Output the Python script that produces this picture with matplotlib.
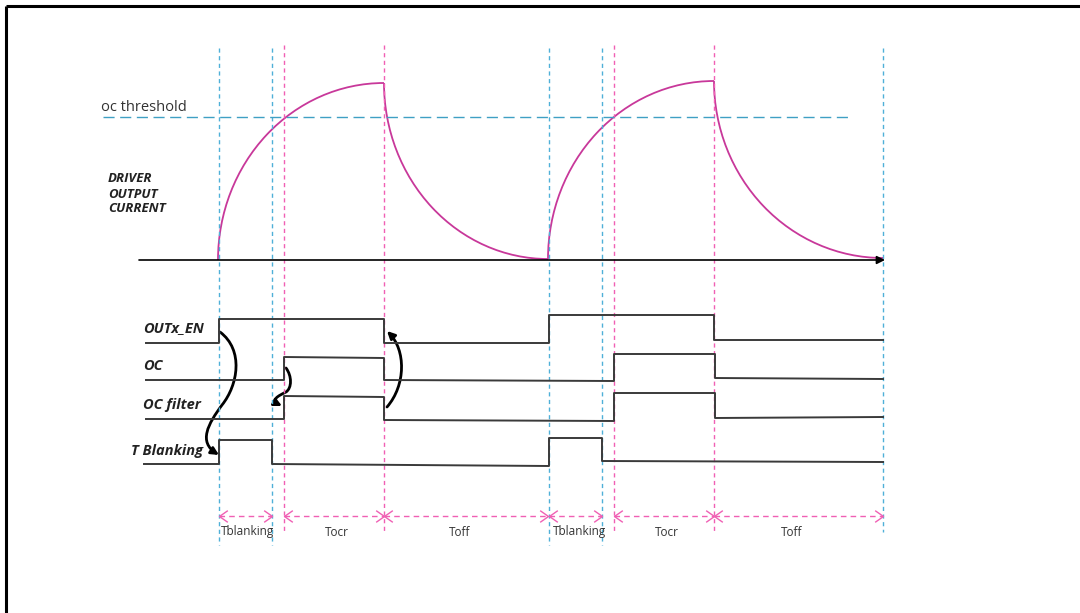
import numpy as np
import matplotlib
matplotlib.use("Agg")
import matplotlib.pyplot as plt
from matplotlib.path import Path
from matplotlib.patches import FancyArrowPatch, Arc

# ---- data (pixel-like time / level units) ----
blue_marks = [219, 272, 549, 602, 883]
blue_bottom = [545, 545, 545, 545, 532]
pink_marks = [284, 384, 614, 714]

threshold_y = 117
threshold_x = [103, 848]
axis_y = 260
axis_x = [139, 885]

# driver output current: each cycle rises as a quarter ellipse then decays
cyc_start = [218, 548]
cyc_peak_x = [384, 714]
cyc_end = [548, 883]
cyc_base = [260, 259]
cyc_peak_y = [83, 81]
cyc_end_y = [259, 258]

# digital waveforms
outx_x = [146, 219, 219, 384, 384, 549, 549, 714, 714, 883]
outx_y = [343, 343, 319, 319, 343, 343, 315, 315, 340, 340]
oc_x = [146, 284, 284, 384, 384, 614, 614, 715, 715, 883]
oc_y = [380, 380, 357, 358, 380, 381, 354, 354, 378, 379]
ocf_x = [146, 284, 284, 384, 384, 614, 614, 715, 715, 883]
ocf_y = [419, 419, 396, 397, 420, 421, 393, 393, 418, 417]
tbl_x = [144, 219, 219, 272, 272, 549, 549, 602, 602, 883]
tbl_y = [464, 464, 440, 440, 464, 466, 438, 438, 461, 462]

sig_names = ["OUTx_EN", "OC", "OC filter", "T Blanking"]
sig_label_x = [143, 143, 143, 131]
sig_label_y = [328, 366, 405, 451]

# durations
dur_start = [219, 284, 384, 549, 614, 714]
dur_end = [272, 384, 548, 602, 714, 883]
dur_names = ["Tblanking", "Tocr", "Toff", "Tblanking", "Tocr", "Toff"]
dur_label_x = [248, 337, 460, 580, 667, 792]

BLUE = "#4fb0d8"
PINK = "#f060b4"
MAG = "#c8389a"
WAVE = "#3a3a3a"

fig = plt.figure(figsize=(10.8, 6.13), dpi=100)
ax = fig.add_axes([0, 0, 1, 1])
ax.set_xlim(0, 1080)
ax.set_ylim(613, 0)
ax.axis("off")

# border
ax.plot([6, 1080], [6, 6], color="black", lw=2.2, solid_capstyle="butt")
ax.plot([6, 6], [6, 613], color="black", lw=2.2, solid_capstyle="butt")

# dashed time markers
for x, b in zip(blue_marks, blue_bottom):
    ax.plot([x, x], [48, b], color=BLUE, lw=1.0, ls=(0, (3, 2.5)))
for x in pink_marks:
    ax.plot([x, x], [45, 532], color=PINK, lw=1.0, ls=(0, (3, 2.5)))

# threshold
ax.plot(threshold_x, [threshold_y, threshold_y], color="#3fa0c4", lw=1.0, ls=(0, (8, 4)))
ax.text(101, 111, "oc threshold", fontsize=10.5, family="Open Sans", color="#333333", va="baseline")

# time axis
ax.annotate("", xy=(axis_x[1], axis_y), xytext=(axis_x[0], axis_y),
            arrowprops=dict(arrowstyle="-|>", color="black", lw=1.2, mutation_scale=12,
                            shrinkA=0, shrinkB=0))

# current waveform (y axis is inverted, so angles run the other way)
for s, px, e, b, py, ey in zip(cyc_start, cyc_peak_x, cyc_end, cyc_base, cyc_peak_y, cyc_end_y):
    ax.add_patch(Arc((px, b), 2 * (px - s), 2 * (b - py), theta1=180, theta2=270,
                     color=MAG, lw=1.3))
    ax.add_patch(Arc((e, py), 2 * (e - px), 2 * (ey - py), theta1=90, theta2=180,
                     color=MAG, lw=1.3))

ax.text(108, 194, "DRIVER\nOUTPUT\nCURRENT", fontsize=9.5, family="Open Sans", weight="bold",
        style="italic", color="#222222", va="center", linespacing=1.2)

# digital signals
for xs, ys in [(outx_x, outx_y), (oc_x, oc_y), (ocf_x, ocf_y), (tbl_x, tbl_y)]:
    ax.plot(xs, ys, color=WAVE, lw=1.4)
for name, lx, ly in zip(sig_names, sig_label_x, sig_label_y):
    ax.text(lx, ly, name, fontsize=10.5, family="Open Sans", weight="bold", style="italic",
            color="#222222", va="center")

# causal arrows
def curve_arrow(verts):
    codes = [Path.MOVETO] + [Path.CURVE4] * (len(verts) - 1)
    p = FancyArrowPatch(path=Path(verts, codes), arrowstyle="-|>", color="black",
                        lw=2.0, mutation_scale=11)
    ax.add_patch(p)

curve_arrow([(220, 332), (244, 350), (238, 385), (222, 405),
             (208, 424), (198, 442), (219, 455)])
curve_arrow([(286, 368), (292, 376), (292, 388), (286, 392),
             (278, 396), (270, 400), (282, 406)])
curve_arrow([(387, 407), (406, 385), (406, 350), (387, 331)])

# duration arrows
head_l = Path([(1.0, 0.7), (0, 0), (1.0, -0.7)], [Path.MOVETO, Path.LINETO, Path.LINETO])
head_r = Path([(-1.0, 0.7), (0, 0), (-1.0, -0.7)], [Path.MOVETO, Path.LINETO, Path.LINETO])
dur_y = 516
for s, e, name, lx in zip(dur_start, dur_end, dur_names, dur_label_x):
    ax.plot([s, e], [dur_y, dur_y], color=PINK, lw=1.0, ls=(0, (4, 3)))
    ax.plot([s], [dur_y], marker=head_l, ms=12, mfc="none", mec=PINK, mew=1.0)
    ax.plot([e], [dur_y], marker=head_r, ms=12, mfc="none", mec=PINK, mew=1.0)
    ax.text(lx, 532, name, fontsize=8.5, family="Open Sans", color="#333333",
            ha="center", va="center")

fig.savefig("out.png", dpi=100)
